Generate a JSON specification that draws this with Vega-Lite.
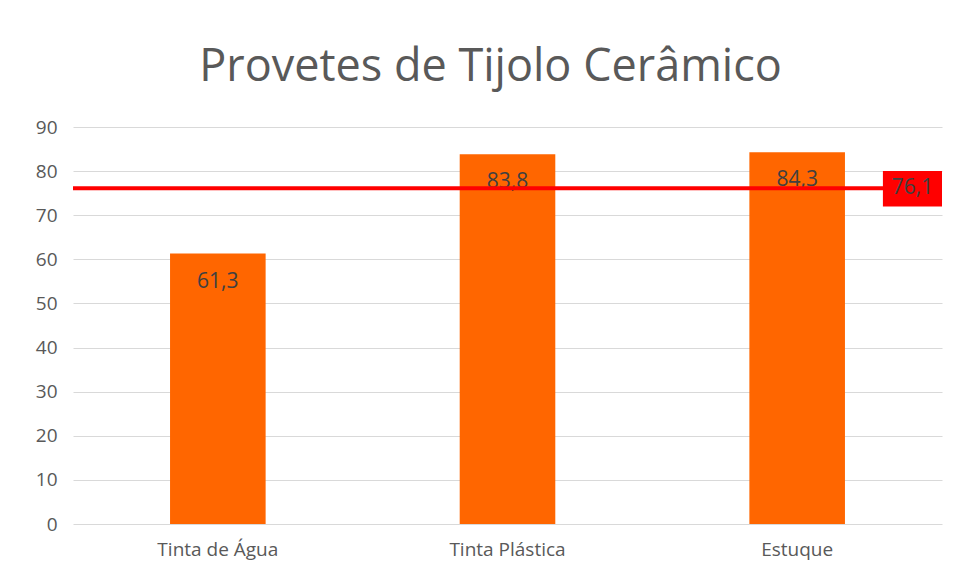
{
  "$schema": "https://vega.github.io/schema/vega-lite/v6.json",
  "width": 869,
  "height": 397,
  "autosize": {"type": "none"},
  "padding": {"left": 73, "top": 127, "right": 15, "bottom": 57},
  "background": "#ffffff",
  "config": {
    "view": {"stroke": null},
    "font": "Open Sans",
    "axis": {"labelFont": "Open Sans", "labelColor": "#595959", "labelFontSize": 19}
  },
  "title": {
    "text": "Provetes de Tijolo Cerâmico",
    "font": "Open Sans",
    "fontSize": 45,
    "fontWeight": "normal",
    "color": "#595959",
    "anchor": "middle",
    "dx": -17,
    "offset": 28
  },
  "datasets": {
    "bars": [
      {"tipo": "Tinta de Água", "valor": 61.3, "rotulo": "61,3"},
      {"tipo": "Tinta Plástica", "valor": 83.8, "rotulo": "83,8"},
      {"tipo": "Estuque", "valor": 84.3, "rotulo": "84,3"}
    ],
    "media": [
      {"media": 76.1, "rotulo": "76,1", "x0": 0.932, "x1": 1.0, "xm": 0.966, "y0": 72, "y1": 80}
    ]
  },
  "layer": [
    {
      "data": {"name": "bars"},
      "layer": [
        {
          "mark": {"type": "bar", "color": "#ff6600"},
          "encoding": {
            "x": {
              "field": "tipo", "type": "nominal", "sort": null,
              "scale": {"paddingInner": 0.67, "paddingOuter": 0.335},
              "axis": {"title": null, "labelAngle": 0, "ticks": false, "domain": false, "labelPadding": 16, "labelFontSize": 19}
            },
            "y": {
              "field": "valor", "type": "quantitative",
              "scale": {"domain": [0, 90], "nice": false},
              "axis": {"title": null, "values": [0,10,20,30,40,50,60,70,80,90], "ticks": false, "domain": false, "labelPadding": 16, "gridColor": "#d9d9d9", "gridWidth": 1}
            }
          }
        },
        {
          "mark": {"type": "text", "color": "#404040", "fontSize": 21, "baseline": "middle", "dy": 28},
          "encoding": {
            "x": {"field": "tipo", "type": "nominal", "sort": null},
            "y": {"field": "valor", "type": "quantitative"},
            "text": {"field": "rotulo"}
          }
        }
      ]
    },
    {
      "data": {"name": "media"},
      "layer": [
        {
          "mark": {"type": "rule", "color": "#ff0000", "strokeWidth": 4},
          "encoding": {"y": {"field": "media", "type": "quantitative"}}
        },
        {
          "mark": {"type": "rect", "color": "#ff0000"},
          "encoding": {
            "x": {"field": "x0", "type": "quantitative", "scale": {"domain": [0, 1], "nice": false}, "axis": null},
            "x2": {"field": "x1"},
            "y": {"field": "y0", "type": "quantitative"},
            "y2": {"field": "y1"}
          }
        },
        {
          "mark": {"type": "text", "color": "#404040", "fontSize": 21, "baseline": "middle", "align": "center"},
          "encoding": {
            "x": {"field": "xm", "type": "quantitative", "scale": {"domain": [0, 1], "nice": false}, "axis": null},
            "y": {"field": "media", "type": "quantitative"},
            "text": {"field": "rotulo"}
          }
        }
      ]
    }
  ],
  "resolve": {"scale": {"x": "independent"}}
}
